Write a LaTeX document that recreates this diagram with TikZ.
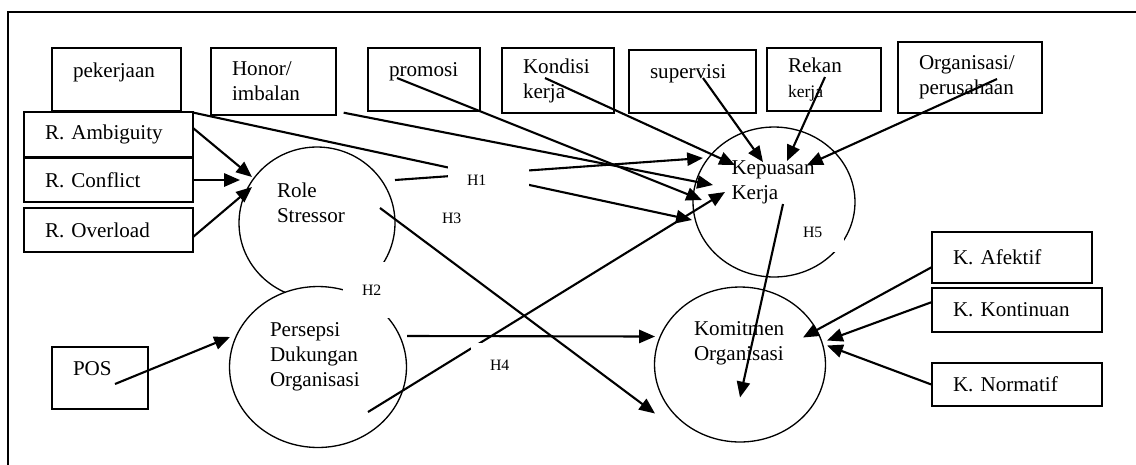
\documentclass[tikz,border=0pt]{standalone}
\usepackage{fontspec}
\setmainfont{Liberation Serif}
\usetikzlibrary{arrows.meta,shapes.geometric,calc}
\tikzset{box/.style={draw=black,line width=0.8pt,align=left,inner xsep=0.42cm,inner ysep=2pt,font=\fontsize{12}{14.2}\selectfont},top1/.style={text depth=11pt},var/.style={ellipse,draw=black,line width=0.75pt,fill=white,inner sep=0pt,align=left,font=\fontsize{12}{14.2}\selectfont},hyp/.style={fill=white,inner xsep=0.38cm,inner ysep=0pt,text width=0.44cm,align=left,font=\fontsize{9}{11}\selectfont},arrow/.style={-{Triangle[length=9pt,width=7.5pt]},line width=1.2pt}}

\begin{document}
\begin{tikzpicture}[x=0.02cm,y=-0.02cm]
\useasboundingbox (0,0) rectangle (1136,464);
\draw[line width=0.9pt] (8,480) -- (8,12) -- (1150,12);
\node[box,top1,text width=1.74cm,minimum height=1.26cm] (pek) at (116.5,79.5) {pekerjaan};
\node[box,text width=1.66cm,minimum height=1.34cm] (hon) at (273.5,81.5) {Honor/\\imbalan};
\node[box,top1,text width=1.4cm,minimum height=1.26cm] (prom) at (424,79.5) {promosi};
\node[box,text width=1.4cm,minimum height=1.3cm] (kond) at (558,80.5) {Kondisi\\kerja};
\node[box,top1,text width=1.7cm,minimum height=1.26cm] (sup) at (692.5,81.5) {supervisi};
\node[box,text width=1.44cm,minimum height=1.26cm] (rek) at (824,79.5) {Rekan\\{\fontsize{10}{12}\selectfont kerja}};
\node[box,text width=2.04cm,minimum height=1.42cm] (org) at (970,77.5) {Organisasi/\\perusahaan};
\node[box,text width=2.54cm,minimum height=0.9cm] (amb) at (108.5,134.5) {R. Ambiguity};
\node[box,text width=2.54cm,minimum height=0.88cm] (con) at (108.5,180) {R. Conflict};
\node[box,text width=2.54cm,minimum height=0.88cm] (ovl) at (108.5,230) {R. Overload};
\node[box,top1,text width=1.08cm,minimum height=1.24cm] (pos) at (100,378) {POS};
\node[box,text width=2.36cm,minimum height=1.02cm] (afe) at (1012,257.5) {K. Afektif};
\node[box,text width=2.56cm,minimum height=0.88cm] (kon) at (1017,310) {K. Kontinuan};
\node[box,text width=2.56cm,minimum height=0.86cm] (nor) at (1017,384.5) {K. Normatif};
\node[var,text width=1.6cm,text depth=37.7pt,minimum width=3.12cm,minimum height=3.04cm] (rs) at (317,223) {Role\\Stressor};
\node[var,text width=1.92cm,text depth=42.3pt,minimum width=3.54cm,minimum height=3.22cm] (pdo) at (318,367) {Persepsi\\Dukungan\\Organisasi};
\node[var,text width=1.7cm,text depth=38.9pt,minimum width=3.24cm,minimum height=3cm] (ks) at (774,202) {Kepuasan\\Kerja};
\node[var,text width=1.84cm,text depth=40.6pt,minimum width=3.42cm,minimum height=3.1cm] (ko) at (740,364.5) {Komitmen\\Organisasi};
\draw[arrow] ($(pek.south east)+(12,1)$) -- ($(ks)+(-82,18)$);
\draw[arrow] ($(rs)+(78,-43)$) -- ($(ks)+(-71,-44)$);
\draw[arrow] ($(pdo)+(50,45)$) -- ($(ks)+(-49,-10)$);
\node[hyp,text width=0.86cm,minimum height=0.92cm] (h1) at (488.5,180) {H1};
\node[hyp,minimum height=1.12cm] (h2) at (373,290) {H2};
\node[hyp,minimum height=0.8cm] (h3) at (453,218) {H3};
\node[hyp,minimum height=0.88cm] (h4) at (501,365) {H4};
\node[hyp,minimum height=0.8cm] (h5) at (814,232) {H5};
\draw[arrow] ($(amb)+(84.5,-6.5)$) -- ($(rs)+(-65,-46)$);
\draw[arrow] (con.east) -- ($(rs)+(-77,-43)$);
\draw[arrow] ($(ovl)+(84.5,7)$) -- ($(rs)+(-65,-36)$);
\draw[arrow] ($(pos)+(15,6)$) -- ($(pdo)+(-88,-30)$);
\draw[arrow] ($(hon.south east)+(7,-3)$) -- ($(ks)+(-61,-17)$);
\draw[arrow] ($(prom)+(-27,-1.5)$) -- ($(ks)+(-72,-2)$);
\draw[arrow] ($(kond)+(-13,-2.5)$) -- ($(ks)+(-39,-37)$);
\draw[arrow] ($(sup)+(10.5,-3.5)$) -- ($(ks)+(-11,-40)$);
\draw[arrow] ($(rek)+(1,-2.5)$) -- ($(ks)+(13,-41)$);
\draw[arrow] ($(org)+(27,1.5)$) -- ($(ks)+(33,-37)$);
\draw[arrow] ($(rs)+(63,-15)$) -- ($(ko)+(-85,49)$);
\draw[arrow] ($(pdo)+(89,-31)$) -- ($(ko)+(-85,-28)$);
\draw[arrow] ($(ks)+(9,2)$) -- ($(ko)+(0,33)$);
\draw[arrow] ($(afe)+(-80,9.5)$) -- ($(ko)+(63,-27)$);
\draw[arrow] ($(kon)+(-85,-8)$) -- ($(ko)+(87,-24)$);
\draw[arrow] (nor.west) -- ($(ko)+(87,-19)$);
\end{tikzpicture}
\end{document}
